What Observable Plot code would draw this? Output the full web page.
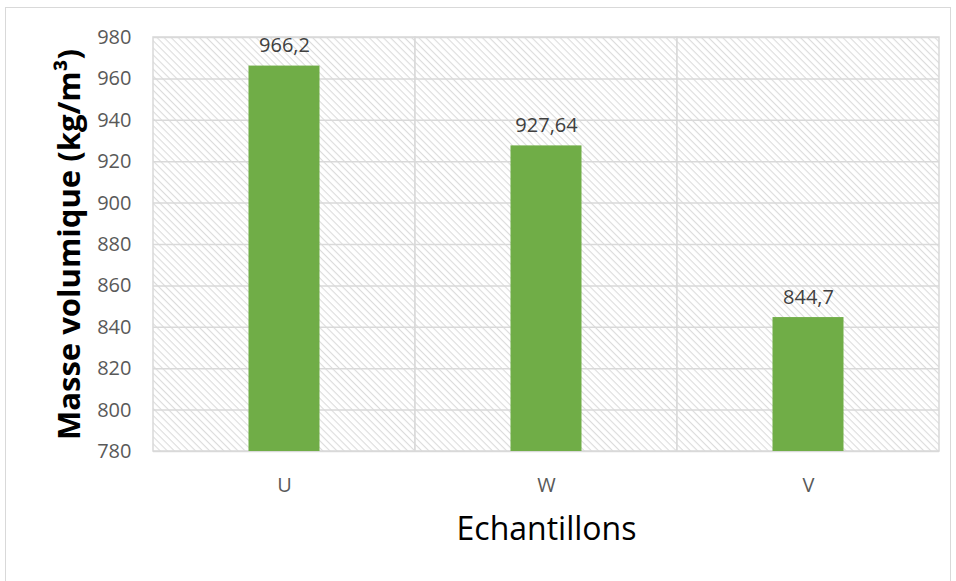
<!DOCTYPE html>
<html>
<head>
<meta charset="utf-8">
<script src="https://cdn.jsdelivr.net/npm/d3@7"></script>
<script src="https://cdn.jsdelivr.net/npm/@observablehq/plot@0.6"></script>
<style>
  html, body { margin: 0; padding: 0; background: #fff; }
  #wrap { position: relative; width: 956px; height: 581px; overflow: hidden; }
  #border { position: absolute; left: 5px; top: 7px; width: 946px; height: 590px; border: 1.5px solid #d9d9d9; box-sizing: border-box; }
  #chart { position: absolute; left: 0; top: 0; }
</style>
</head>
<body>
<div id="wrap"><div id="border"></div><div id="chart"></div></div>
<script>
const categories = ["U", "W", "V"];
const values = [966.2, 927.64, 844.7];
const yTicks = [780, 800, 820, 840, 860, 880, 900, 920, 940, 960, 980];
const yTitle = "Masse volumique (kg/m³)";
const xTitle = "Echantillons";

const data = categories.map((c, i) => ({ cat: c, value: values[i], label: String(values[i]).replace(".", ",") }));

const font = "'Open Sans', 'Noto Sans', sans-serif";

const plot = Plot.plot({
  width: 956,
  height: 581,
  marginLeft: 153,
  marginRight: 17,
  marginTop: 37,
  marginBottom: 130,
  style: { fontFamily: font, fontSize: "20px", color: "#595959", background: "transparent" },
  x: { domain: categories, padding: 0, label: null },
  y: { domain: [780, 980], label: null },
  marks: [
    Plot.cell(categories, { x: d => d, fill: "url(#hatch)", stroke: "#d9d9d9", strokeWidth: 1.5, inset: 0 }),
    Plot.ruleY(yTicks, { stroke: "#d9d9d9", strokeWidth: 1.5 }),
    Plot.barY(data, { x: "cat", y1: 780, y2: "value", fill: "#70ad47", insetLeft: 95.5, insetRight: 95.5 }),
    Plot.axisY({ ticks: yTicks, tickSize: 0, tickPadding: 22, fontSize: 20, fill: "#595959", label: null }),
    Plot.axisX({ tickSize: 0, tickPadding: 26, fontSize: 20, fill: "#595959", label: null }),
    Plot.text(data, { x: "cat", y: "value", text: "label", dy: -20, fill: "#404040", fontSize: 20 }),
    Plot.text([yTitle], { frameAnchor: "left", textAnchor: "middle", text: d => d, rotate: -90, dx: -83, fontSize: 31, fontWeight: "bold", fill: "#000" }),
    Plot.text([xTitle], { frameAnchor: "bottom", textAnchor: "middle", text: d => d, dy: 88, fontSize: 32, fill: "#000" })
  ]
});

const svg = d3.select(plot);
const defs = svg.insert("defs", ":first-child");
const pat = defs.append("pattern")
  .attr("id", "hatch")
  .attr("patternUnits", "userSpaceOnUse")
  .attr("width", 5)
  .attr("height", 5)
  .attr("patternTransform", "rotate(45)");
pat.append("rect").attr("width", 5).attr("height", 5).attr("fill", "#fff");
pat.append("line").attr("x1", 0).attr("y1", 0.5).attr("x2", 5).attr("y2", 0.5)
  .attr("stroke", "#dcdcdc").attr("stroke-width", 1.2);

document.getElementById("chart").appendChild(plot);
</script>
</body>
</html>
